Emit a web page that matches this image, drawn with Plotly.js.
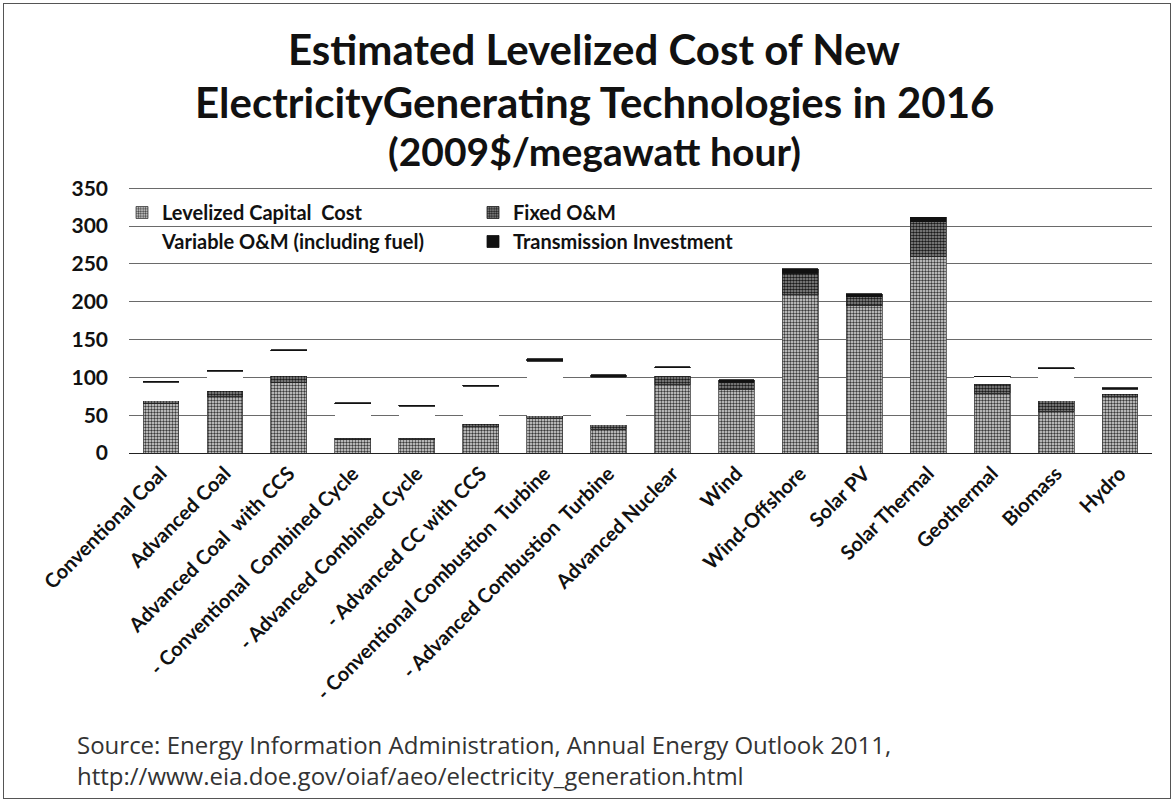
<!DOCTYPE html>
<html>
<head>
<meta charset="utf-8">
<script src="https://cdn.plot.ly/plotly-3.0.1.min.js"></script>
<style>
  html, body { margin: 0; padding: 0; background: #fff; }
  #wrap { width: 1175px; height: 803px; position: relative; }
  #chart { width: 1175px; height: 803px; }
  #frame { position: absolute; left: 3px; top: 3px; width: 1166px; height: 794px; border: 1px solid #555; pointer-events: none; }
</style>
</head>
<body>
<div id="wrap">
  <div id="chart"></div>
  <div id="frame"></div>
</div>
<script>
const categories = [
  "Conventional Coal", "Advanced Coal", "Advanced Coal  with CCS",
  "- Conventional  Combined Cycle", "- Advanced Combined Cycle", "- Advanced CC with CCS",
  "- Conventional Combustion  Turbine", "- Advanced Combustion  Turbine", "Advanced Nuclear",
  "Wind", "Wind-Offshore", "Solar PV", "Solar Thermal", "Geothermal", "Biomass", "Hydro"
];
const capitalCost  = [65.3, 74.6, 92.7, 17.5, 17.9, 34.6, 45.8, 31.6, 90.1, 83.9, 209.3, 194.6, 259.4, 79.3, 55.3, 74.5];
const fixedOM      = [3.9, 7.9, 9.2, 1.9, 1.9, 3.9, 3.7, 5.5, 11.1, 9.6, 28.1, 12.1, 46.6, 11.9, 13.7, 3.8];
const variableOM   = [24.3, 25.7, 33.1, 45.6, 42.1, 49.6, 71.5, 62.9, 11.7, 0.0, 0.0, 0.0, 0.0, 9.5, 42.3, 6.3];
const transmission = [1.2, 1.2, 1.2, 1.2, 1.2, 1.2, 3.5, 3.5, 1.0, 3.5, 5.9, 4.0, 5.8, 1.0, 1.3, 1.9];
const seriesNames  = ["Levelized Capital  Cost", "Fixed O&M", "Variable O&M (including fuel)", "Transmission Investment"];
const yTicks = [0, 50, 100, 150, 200, 250, 300, 350];
const titleLines = ["Estimated Levelized Cost of New", "ElectricityGenerating Technologies in 2016", "(2009$/megawatt hour)"];
const sourceLines = ["Source: Energy Information Administration, Annual Energy Outlook 2011,", "http://www.eia.doe.gov/oiaf/aeo/electricity_generation.html"];

const font = "Lato, 'Open Sans', 'DejaVu Sans', sans-serif";
const srcFont = "'Open Sans', 'DejaVu Sans', sans-serif";

const traces = [
  {
    type: "bar", name: seriesNames[0], x: categories, y: capitalCost, legend: "legend",
    marker: { color: "#b8b8b8", line: { color: "#444", width: 0.8 },
      pattern: { shape: ".", fgcolor: "#3a3a3a", bgcolor: "#dedede", size: 3, solidity: 0.5 } }
  },
  {
    type: "bar", name: seriesNames[1], x: categories, y: fixedOM, legend: "legend2",
    marker: { color: "#777", line: { color: "#222", width: 0.8 },
      pattern: { shape: ".", fgcolor: "#1a1a1a", bgcolor: "#9a9a9a", size: 3, solidity: 0.6 } }
  },
  {
    type: "bar", name: seriesNames[2], x: categories, y: variableOM, legend: "legend",
    marker: { color: "rgba(255,255,255,1)", line: { width: 0 } }
  },
  {
    type: "bar", name: seriesNames[3], x: categories, y: transmission, legend: "legend2",
    marker: { color: "#111", line: { color: "#111", width: 0.8 } }
  }
];

const T = 186, B = 350, H = 803 - T - B;
const pxToPaperY = p => (803 - B - p) / H;
const pxToPaperX = p => (p - 129) / 1023;
const titleX = pxToPaperX(594);
const legendFont = { family: font, size: 20, color: "#111", weight: "bold" };

const layout = {
  width: 1175, height: 803,
  paper_bgcolor: "#fff", plot_bgcolor: "#fff",
  margin: { l: 129, r: 23, t: T, b: B },
  barmode: "stack",
  bargap: 0.44,
  font: { family: font, color: "#111" },
  showlegend: true,
  xaxis: {
    type: "category",
    tickangle: -45,
    tickfont: { family: font, size: 20, color: "#111", weight: "bold" },
    showline: true, linecolor: "#222", linewidth: 1,
    ticks: "", showgrid: false, automargin: false
  },
  yaxis: {
    range: [0, 353],
    tickvals: yTicks,
    ticktext: yTicks.map(String),
    tickfont: { family: font, size: 21, color: "#111", weight: "bold" },
    ticklabelstandoff: 20,
    showgrid: true, gridcolor: "#6a6a6a", gridwidth: 1,
    zeroline: false, showline: false, ticks: "",
    automargin: false
  },
  legend: {
    orientation: "v",
    x: pxToPaperX(122), xanchor: "left", y: pxToPaperY(193), yanchor: "top",
    bgcolor: "rgba(0,0,0,0)",
    font: legendFont,
    traceorder: "normal",
    itemwidth: 30,
    tracegroupgap: 0
  },
  legend2: {
    orientation: "v",
    x: pxToPaperX(473), xanchor: "left", y: pxToPaperY(193), yanchor: "top",
    bgcolor: "rgba(0,0,0,0)",
    font: legendFont,
    traceorder: "normal",
    itemwidth: 30,
    tracegroupgap: 0
  },
  annotations: [
    { xref: "paper", yref: "paper", x: titleX, y: pxToPaperY(49), xanchor: "center", yanchor: "middle",
      showarrow: false, text: "<b>" + titleLines[0] + "</b>", font: { family: font, size: 42, color: "#111" } },
    { xref: "paper", yref: "paper", x: titleX, y: pxToPaperY(102), xanchor: "center", yanchor: "middle",
      showarrow: false, text: "<b>" + titleLines[1] + "</b>", font: { family: font, size: 42, color: "#111" } },
    { xref: "paper", yref: "paper", x: titleX, y: pxToPaperY(151), xanchor: "center", yanchor: "middle",
      showarrow: false, text: "<b>" + titleLines[2] + "</b>", font: { family: font, size: 39, color: "#111" } },
    { xref: "paper", yref: "paper", x: pxToPaperX(75), y: pxToPaperY(726), xanchor: "left", yanchor: "top",
      align: "left", showarrow: false, text: sourceLines.join("<br>"),
      font: { family: srcFont, size: 24, color: "#333" } }
  ]
};

Plotly.newPlot("chart", traces, layout, { displayModeBar: false, staticPlot: true });
</script>
</body>
</html>
